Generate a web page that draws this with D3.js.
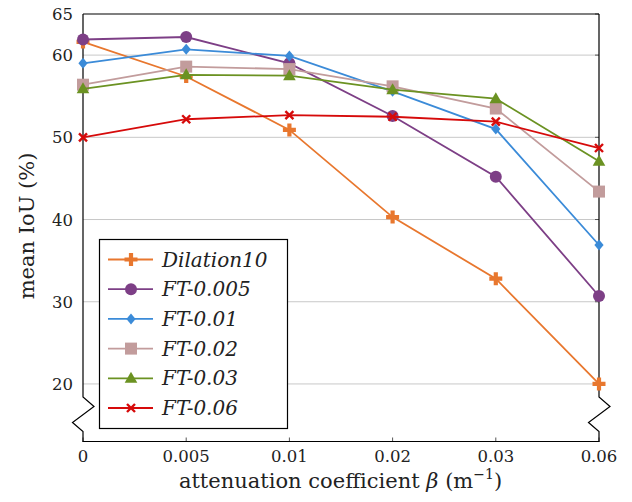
<!DOCTYPE html>
<meta charset="utf-8">
<title>mean IoU vs attenuation coefficient</title>
<style>
  body { margin: 0; background: #fff; }
  text { font-family: "DejaVu Serif", "Liberation Serif", serif; fill: #222; }
  .grid line { stroke: #c8c8c8; stroke-width: 1px; }
  .frame { fill: none; stroke: #000; stroke-width: 1.2px; }
  .series { fill: none; stroke-width: 1.8px; }
</style>
<body>
<script src="https://d3js.org/d3.v7.min.js"></script>
<script>
  var width = 632,
    height = 502;

  // data
  var betas = ["0", "0.005", "0.01", "0.02", "0.03", "0.06"];
  var yTicks = [20, 30, 40, 50, 60, 65];

  var dilation10 = [61.6, 57.4, 50.9, 40.3, 32.8, 20.0];
  var ft0005 = [61.9, 62.2, 59.0, 52.6, 45.2, 30.7];
  var ft001 = [59.0, 60.7, 59.9, 55.6, 51.0, 36.9];
  var ft002 = [56.4, 58.6, 58.3, 56.2, 53.5, 43.4];
  var ft003 = [55.9, 57.6, 57.5, 55.8, 54.7, 47.1];
  var ft006 = [50.0, 52.2, 52.7, 52.5, 51.9, 48.7];

  var names = ["Dilation10", "FT-0.005", "FT-0.01", "FT-0.02", "FT-0.03", "FT-0.06"];
  var colors = ["#e8772e", "#7d3f86", "#3b8bd8", "#c29c9c", "#6b9222", "#d60a0a"];
  var markers = ["plus", "circle", "diamond", "square", "triangle", "times"];

  var series = [dilation10, ft0005, ft001, ft002, ft003, ft006].map(function(v, i) {
    return { name: names[i], values: v, color: colors[i], marker: markers[i] };
  });

  var pLeft = 83, pRight = 599, pTop = 14, pBottom = 441.5;

  var x = d3.scalePoint().domain(betas).range([pLeft, pRight]);
  var y = d3.scaleLinear().domain([13, 65]).range([pBottom, pTop]);

  var svg = d3.select("body").append("svg")
    .attr("width", width)
    .attr("height", height);

  // horizontal grid
  svg.append("g").attr("class", "grid")
    .selectAll("line")
    .data(yTicks.filter(function(d) { return d < 65; }))
    .enter().append("line")
    .attr("x1", pLeft).attr("x2", pRight)
    .attr("y1", function(d) { return y(d); })
    .attr("y2", function(d) { return y(d); });

  // inward tick marks on the right edge and bottom edge
  svg.append("g").selectAll("line")
    .data(yTicks)
    .enter().append("line")
    .attr("x1", pRight - 4).attr("x2", pRight)
    .attr("y1", function(d) { return y(d); })
    .attr("y2", function(d) { return y(d); })
    .attr("stroke", "#555");

  svg.append("g").selectAll("line")
    .data(betas)
    .enter().append("line")
    .attr("x1", function(d) { return x(d); })
    .attr("x2", function(d) { return x(d); })
    .attr("y1", pBottom - 4).attr("y2", pBottom)
    .attr("stroke", "#555");

  // frame with broken axis zigzags
  function sideWithBreak(x0) {
    var p = d3.path();
    p.moveTo(x0, pTop);
    p.lineTo(x0, 397);
    p.lineTo(x0 + 11, 406.5);
    p.lineTo(x0 - 10.5, 422.5);
    p.lineTo(x0, 431.5);
    p.lineTo(x0, pBottom);
    return p.toString();
  }
  svg.append("path").attr("class", "frame").attr("d", sideWithBreak(pLeft));
  svg.append("path").attr("class", "frame").attr("d", sideWithBreak(pRight));
  svg.append("line").attr("class", "frame")
    .attr("x1", pLeft).attr("x2", pRight).attr("y1", pTop).attr("y2", pTop);
  svg.append("line").attr("class", "frame")
    .attr("x1", pLeft - 0.6).attr("x2", pRight + 0.6).attr("y1", pBottom).attr("y2", pBottom);

  // tick labels
  svg.append("g").selectAll("text")
    .data(yTicks)
    .enter().append("text")
    .attr("x", pLeft - 10)
    .attr("y", function(d) { return y(d) + 6; })
    .attr("text-anchor", "end")
    .style("font-size", "16.5px")
    .text(function(d) { return d; });

  svg.append("g").selectAll("text")
    .data(betas)
    .enter().append("text")
    .attr("x", function(d) { return x(d); })
    .attr("y", 461.5)
    .attr("text-anchor", "middle")
    .style("font-size", "16.5px")
    .text(function(d) { return d; });

  // axis titles
  var xt = svg.append("text")
    .attr("x", 340.5)
    .attr("y", 488)
    .attr("text-anchor", "middle")
    .style("font-size", "21px");
  xt.append("tspan").text("attenuation coefficient ");
  xt.append("tspan").style("font-style", "italic").text("\u03b2");
  xt.append("tspan").text(" (m");
  xt.append("tspan").attr("dy", -9).style("font-size", "14px").text("\u22121");
  xt.append("tspan").attr("dy", 9).text(")");

  svg.append("text")
    .attr("transform", "translate(34,226) rotate(-90)")
    .attr("text-anchor", "middle")
    .style("font-size", "21px")
    .text("mean IoU (%)");

  // marker shapes
  function markerPath(type) {
    var p = d3.path();
    if (type == "plus") {
      var a = 6.5, b = 2.1;
      p.moveTo(-b, -a); p.lineTo(b, -a); p.lineTo(b, -b); p.lineTo(a, -b);
      p.lineTo(a, b); p.lineTo(b, b); p.lineTo(b, a); p.lineTo(-b, a);
      p.lineTo(-b, b); p.lineTo(-a, b); p.lineTo(-a, -b); p.lineTo(-b, -b);
      p.closePath();
    } else if (type == "circle") {
      p.arc(0, 0, 6, 0, 2 * Math.PI);
    } else if (type == "diamond") {
      p.moveTo(0, -5.5); p.lineTo(4.6, 0); p.lineTo(0, 5.5); p.lineTo(-4.6, 0);
      p.closePath();
    } else if (type == "square") {
      p.rect(-6, -6, 12, 12);
    } else if (type == "triangle") {
      p.moveTo(0, -6.5); p.lineTo(6.3, 4.5); p.lineTo(-6.3, 4.5);
      p.closePath();
    } else {
      p.moveTo(-4, -4); p.lineTo(4, 4);
      p.moveTo(4, -4); p.lineTo(-4, 4);
    }
    return p.toString();
  }

  function drawMarker(g, d, cx, cy) {
    var m = g.append("path")
      .attr("d", markerPath(d.marker))
      .attr("transform", "translate(" + cx + "," + cy + ")");
    if (d.marker == "times") {
      m.attr("fill", "none").attr("stroke", d.color).attr("stroke-width", 2.4);
    } else {
      m.attr("fill", d.color).attr("stroke", "none");
    }
  }

  var line = d3.line()
    .x(function(d, i) { return x(betas[i]); })
    .y(function(d) { return y(d); });

  // lines + markers
  series.forEach(function(s) {
    var g = svg.append("g");
    g.append("path")
      .attr("class", "series")
      .attr("stroke", s.color)
      .attr("d", line(s.values));
    s.values.forEach(function(v, i) {
      drawMarker(g, s, x(betas[i]), y(v));
    });
  });

  // legend
  var lg = svg.append("g");
  lg.append("rect")
    .attr("x", 99.5).attr("y", 239.5)
    .attr("width", 188).attr("height", 189)
    .attr("fill", "#fff").attr("stroke", "#000").attr("stroke-width", 1.2);

  series.forEach(function(s, i) {
    var cy = 259.5 + i * 29.7;
    lg.append("line")
      .attr("x1", 108).attr("x2", 153)
      .attr("y1", cy).attr("y2", cy)
      .attr("stroke", s.color).attr("stroke-width", 1.8);
    drawMarker(lg, s, 131, cy);
    lg.append("text")
      .attr("x", 162)
      .attr("y", cy + 7)
      .style("font-size", "20px")
      .style("font-style", "italic")
      .text(s.name);
  });
</script>
</body>
</html>
